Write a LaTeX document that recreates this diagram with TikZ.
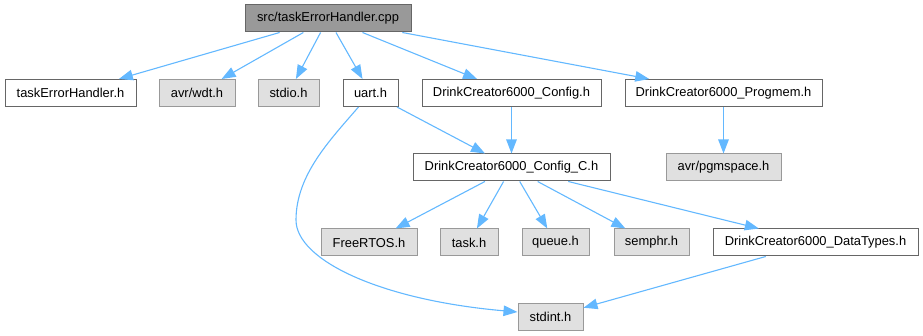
\documentclass[tikz,border=0pt]{standalone}
\usepackage{fontspec}
\setmainfont{Liberation Sans}
\usetikzlibrary{arrows.meta,calc}
\definecolor{edgeblue}{RGB}{99,184,255}
\definecolor{sysfill}{RGB}{224,224,224}
\definecolor{sysline}{RGB}{153,153,153}
\definecolor{rootfill}{RGB}{153,153,153}
\definecolor{boxline}{RGB}{102,102,102}
\tikzset{
  base/.style={rectangle, minimum height=27pt, inner sep=0pt, line width=1pt,
    font=\fontsize{12.9}{15}\selectfont, text=black},
  filebox/.style={base, draw=boxline, fill=white},
  sysbox/.style={base, draw=sysline, fill=sysfill},
  rootbox/.style={base, draw=boxline, fill=rootfill},
  dep/.style={draw=edgeblue, line width=1.1pt,
    -{Triangle[length=14pt,width=10.5pt,fill=edgeblue]}}
}
\begin{document}
\begin{tikzpicture}[x=1pt,y=-1pt]
\useasboundingbox (0,0) rectangle (923,336);

% source file
\node[rootbox, minimum width=166pt] (root) at (328,18.5) {src/taskErrorHandler.cpp};

% direct includes
\node[filebox, minimum width=131pt] (teh)     at (70.5,93)  {taskErrorHandler.h};
\node[sysbox,  minimum width=76pt]  (wdt)     at (197,93)   {avr/wdt.h};
\node[sysbox,  minimum width=61pt]  (stdio)   at (288.5,93) {stdio.h};
\node[filebox, minimum width=55pt]  (uart)    at (370.5,93) {uart.h};
\node[filebox, minimum width=179pt] (config)  at (511.5,93) {DrinkCreator6000\_Config.h};
\node[filebox, minimum width=197pt] (progmem) at (723.5,93) {DrinkCreator6000\_Progmem.h};

% second level
\node[filebox, minimum width=197pt] (configc)  at (511.5,167.5) {DrinkCreator6000\_Config\_C.h};
\node[sysbox,  minimum width=115pt] (pgmspace) at (723.5,167.5) {avr/pgmspace.h};

% third level
\node[sysbox,  minimum width=96pt]  (freertos)  at (369,242.5)   {FreeRTOS.h};
\node[sysbox,  minimum width=58pt]  (task)      at (469,242.5)   {task.h};
\node[sysbox,  minimum width=67pt]  (queue)     at (555.5,242.5) {queue.h};
\node[sysbox,  minimum width=75pt]  (semphr)    at (651.5,242.5) {semphr.h};
\node[filebox, minimum width=205pt] (datatypes) at (815.5,242.5) {DrinkCreator6000\_DataTypes.h};

% bottom
\node[sysbox, minimum width=65pt] (stdint) at (550.5,317) {stdint.h};

% include edges
\draw[dep] (root) -- (teh);
\draw[dep] (root) -- (wdt);
\draw[dep] (root) -- (stdio);
\draw[dep] (root) -- (uart);
\draw[dep] (root) -- (config);
\draw[dep] (root) -- (progmem);
\draw[dep] (uart) -- (configc);
\draw[dep] (config) -- (configc);
\draw[dep] (progmem) -- (pgmspace);
\draw[dep] (configc) -- (freertos);
\draw[dep] (configc) -- (task);
\draw[dep] (configc) -- (queue);
\draw[dep] (configc) -- (semphr);
\draw[dep] (configc) -- (datatypes);
\draw[dep] (datatypes) -- (stdint);

% long curved edge from uart.h to stdint.h
\coordinate (ustart) at ($(uart.south)+(-12,0)$);
\coordinate (uend) at ($(stdint.west)+(0,-5)$);
\draw[dep] (ustart) .. controls (330,140) and (296,175) .. (296,220)
  .. controls (296,260) and (380,300) .. (uend);
\end{tikzpicture}
\end{document}
